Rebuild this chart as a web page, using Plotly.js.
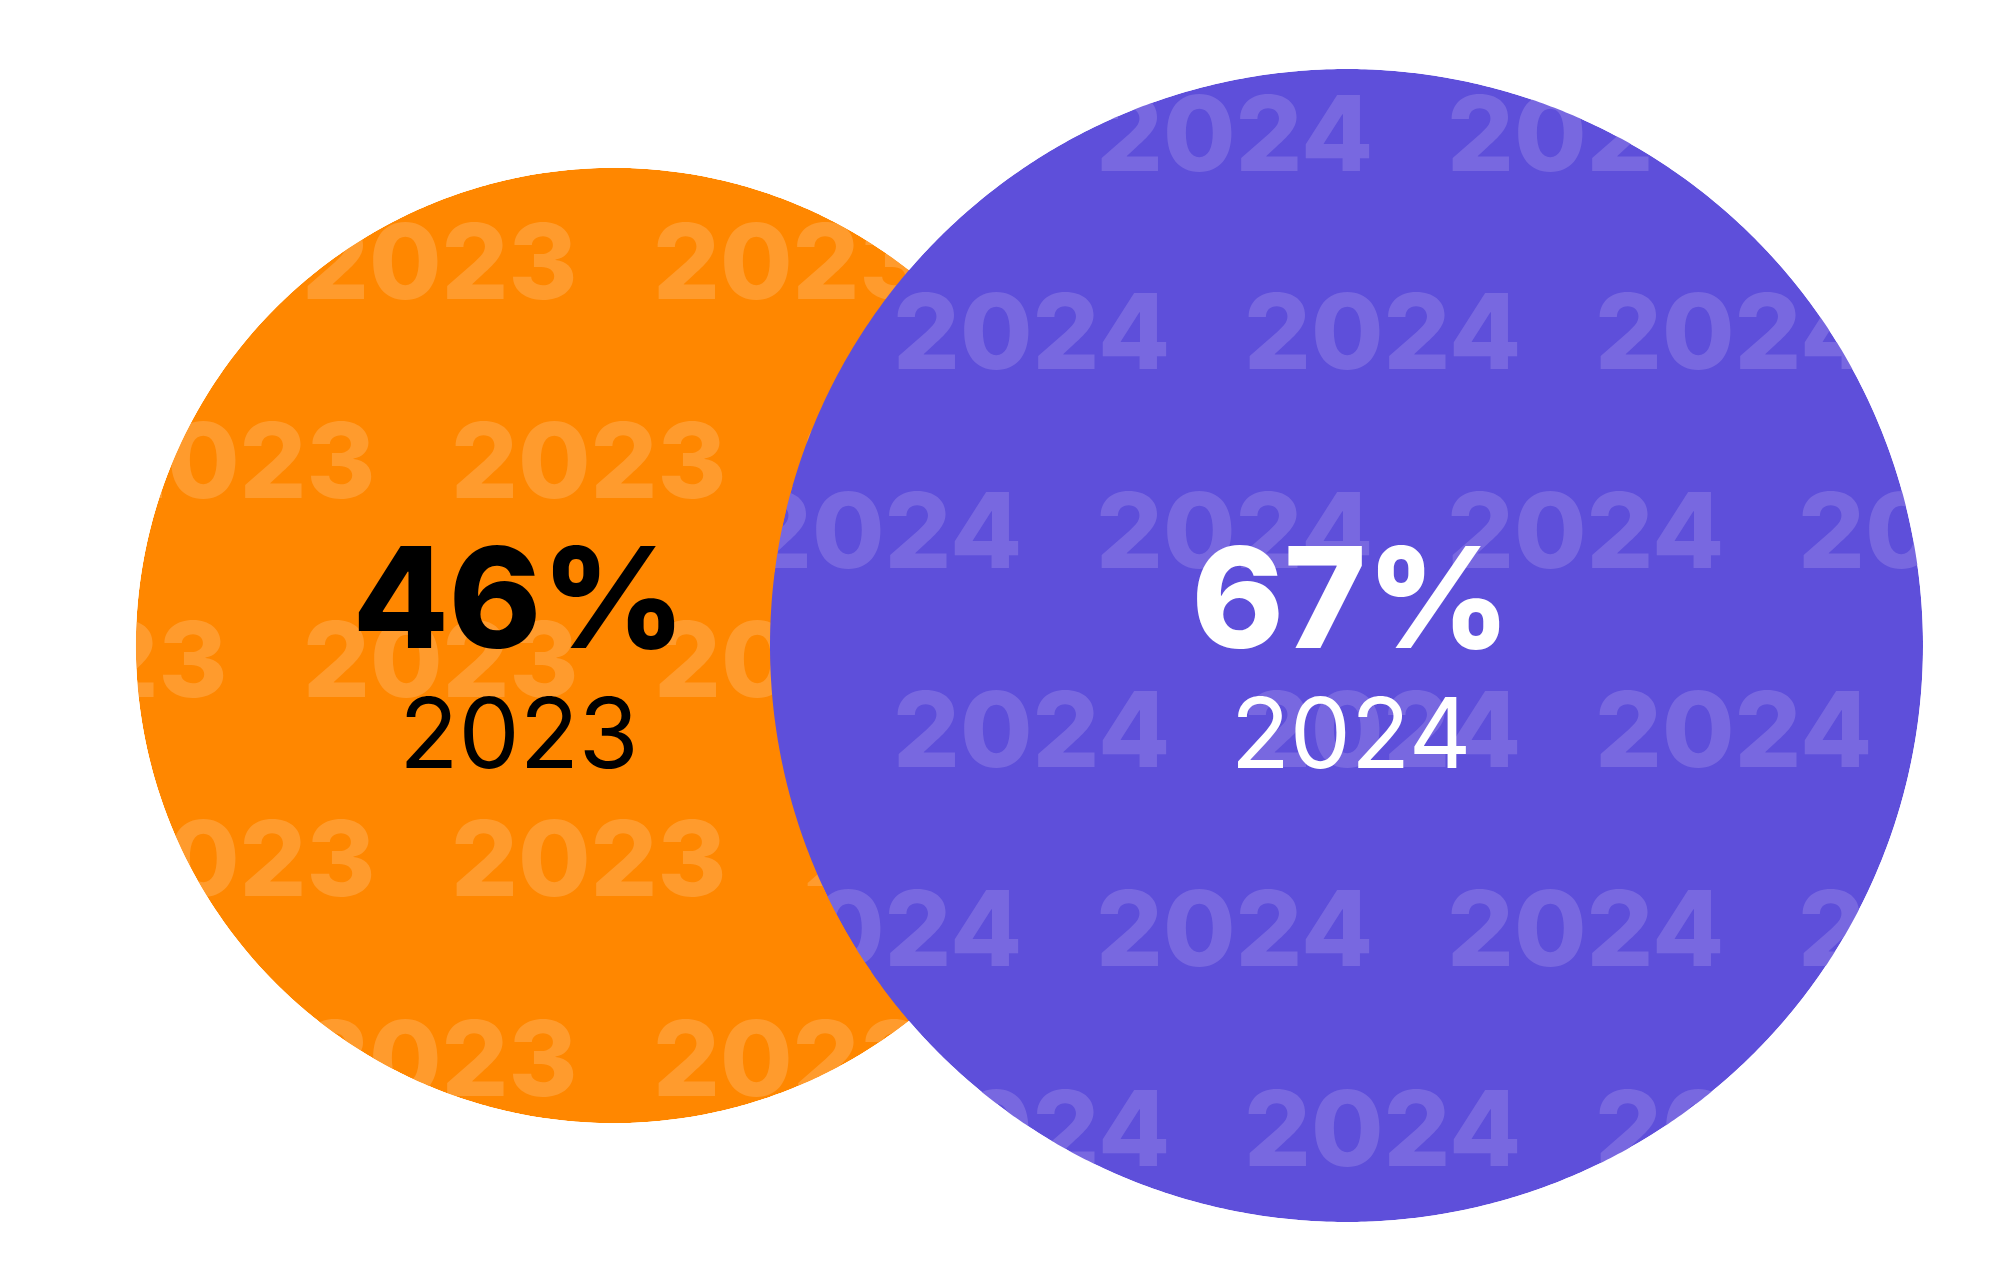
<!DOCTYPE html>
<html><head><meta charset="utf-8">
<script src="https://cdn.plot.ly/plotly-3.0.1.min.js"></script>
<style>html,body{margin:0;padding:0;background:#fff;}#chart{width:2000px;height:1287px;}</style>
</head><body><div id="chart"></div>
<script>
// ---------------- data ----------------
const years = ['2023', '2024'];
const shares = [46, 67];
const shareLabels = shares.map(v => v + '%');

// ---------------- styles / layout constants ----------------
const fillColors = ['#FF8700', '#5E4FDA'];
const watermarkColors = ['#FF9B2D', '#7868E0'];
const labelColors = ['#000000', '#FFFFFF'];
const W = 2000, H = 1287;
const centers = [[613.5, 645.5], [1346.5, 645.5]];
const areaScale = 70.43;              // radius = areaScale * sqrt(value)
const labelX = [519, 1351];
const valueBaseline = 648, yearBaseline = 768;
const valueFont = 140, yearFont = 97, wmFont = 105;
const heavyWeight = 800;
const wmStep = 351;
// watermark rows per circle: [baseline y, first item left x, item count]
const wmRows = [
  [[299, 306, 2], [498, 104, 3], [697, -44, 3], [896, 104, 3], [1096, 306, 2]],
  [[171, 1100, 2], [369, 897, 3], [568, 749, 4], [767, 897, 3], [966, 749, 4], [1166, 897, 3]]
];
// areas of the purple pattern that spill onto the orange crescent: [yTop, yBottom, xLeft]
const spill = [[486, 572, 730], [886, 972, 730]];

const radii = shares.map(v => areaScale * Math.sqrt(v));

function circlePts(c, r, n, rev) {
  const xs = [], ys = [];
  for (let i = 0; i <= n; i++) {
    const t = (rev ? -1 : 1) * 2 * Math.PI * i / n;
    xs.push(c[0] + r * Math.cos(t)); ys.push(c[1] + r * Math.sin(t));
  }
  return [xs, ys];
}
function rectPts() {
  return [[-20, W + 20, W + 20, -20, -20], [-20, -20, H + 20, H + 20, -20]];
}
function unionPts(n) {
  // star-shaped union of both discs, seen from a point inside both
  const P = [(centers[1][0] - radii[1] + centers[0][0] + radii[0]) / 2, centers[0][1]];
  const xs = [], ys = [];
  for (let i = 0; i <= n; i++) {
    const t = -2 * Math.PI * i / n;
    const dx = Math.cos(t), dy = Math.sin(t);
    let best = 0;
    for (let k = 0; k < 2; k++) {
      const ox = centers[k][0] - P[0], oy = centers[k][1] - P[1];
      const b = dx * ox + dy * oy;
      const d = b + Math.sqrt(b * b - (ox * ox + oy * oy) + radii[k] * radii[k]);
      if (d > best) best = d;
    }
    xs.push(P[0] + best * dx); ys.push(P[1] + best * dy);
  }
  return [xs, ys];
}
function joinPolys(polys) {
  const xs = [], ys = [];
  polys.forEach((p, i) => { if (i) { xs.push(null); ys.push(null); } xs.push(...p[0]); ys.push(...p[1]); });
  return [xs, ys];
}
function purpleLeftEdge(y) {
  const dy = y - centers[1][1];
  return centers[1][0] - Math.sqrt(radii[1] * radii[1] - dy * dy);
}
function spillPts(s) {
  const xs = [s[2]], ys = [s[0]];
  for (let i = 0; i <= 40; i++) { const y = s[0] + (s[1] - s[0]) * i / 40; xs.push(purpleLeftEdge(y)); ys.push(y); }
  xs.push(s[2], s[2]); ys.push(s[1], s[0]);
  return [xs, ys];
}

function disk(k) {
  const p = circlePts(centers[k], radii[k], 720, false);
  return {type: 'scatter', x: p[0], y: p[1], mode: 'none', fill: 'toself',
          fillcolor: fillColors[k], line: {width: 0}, hoverinfo: 'skip', showlegend: false};
}
function watermark(k) {
  const xs = [], ys = [], ts = [];
  wmRows[k].forEach(r => {
    for (let i = 0; i < r[2]; i++) { xs.push(r[1] + i * wmStep - 4); ys.push(r[0] - 0.25 * wmFont); ts.push(years[k]); }
  });
  return {type: 'scatter', x: xs, y: ys, text: ts, mode: 'text', textposition: 'middle right',
          textfont: {family: 'Inter', size: wmFont, weight: heavyWeight, color: watermarkColors[k]},
          hoverinfo: 'skip', showlegend: false};
}
function mask(hole) {
  const p = joinPolys([rectPts(), hole]);
  return {type: 'scatter', x: p[0], y: p[1], mode: 'none', fill: 'toself',
          fillcolor: '#FFFFFF', line: {width: 0}, hoverinfo: 'skip', showlegend: false};
}

const patch = joinPolys(spill.map(spillPts));
const traces = [
  disk(0),
  watermark(0),
  mask(circlePts(centers[0], radii[0], 720, true)),
  disk(1),
  watermark(1),
  mask(unionPts(1440)),
  {type: 'scatter', x: patch[0], y: patch[1], mode: 'none', fill: 'toself',
   fillcolor: fillColors[0], line: {width: 0}, hoverinfo: 'skip', showlegend: false},
  {type: 'scatter', x: labelX, y: labelX.map(() => valueBaseline - 0.25 * valueFont), text: shareLabels,
   mode: 'text', textposition: 'middle center',
   textfont: {family: 'Inter', size: valueFont, weight: heavyWeight, color: labelColors},
   hoverinfo: 'skip', showlegend: false},
  {type: 'scatter', x: labelX, y: labelX.map(() => yearBaseline - 0.25 * yearFont), text: years,
   mode: 'text', textposition: 'middle center',
   textfont: {family: 'Inter', size: yearFont, weight: 400, color: labelColors},
   hoverinfo: 'skip', showlegend: false}
];

const layout = {
  width: W, height: H, margin: {l: 0, r: 0, t: 0, b: 0, pad: 0},
  paper_bgcolor: '#FFFFFF', plot_bgcolor: '#FFFFFF', showlegend: false, hovermode: false,
  xaxis: {range: [0, W], visible: false, fixedrange: true},
  yaxis: {range: [H, 0], visible: false, fixedrange: true}
};
Plotly.newPlot('chart', traces, layout, {staticPlot: true, displayModeBar: false});
</script></body></html>
